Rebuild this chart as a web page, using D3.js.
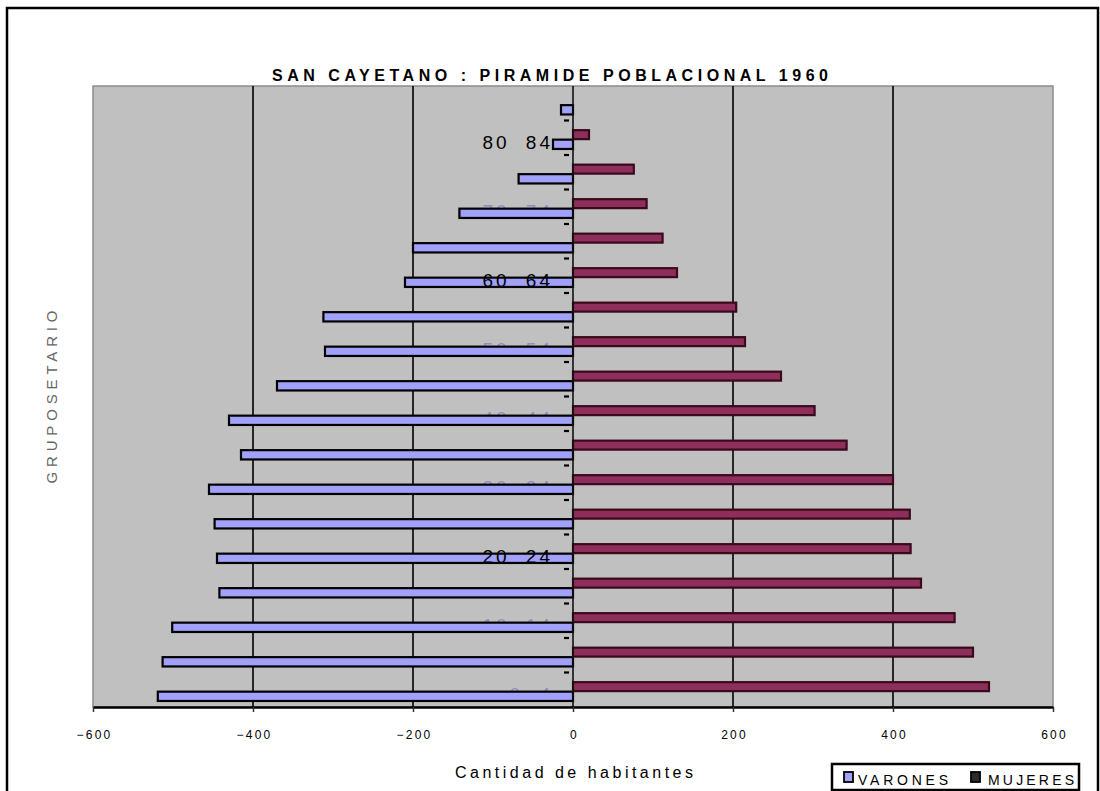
<!DOCTYPE html>
<html>
<head>
<meta charset="utf-8">
<script src="https://cdn.jsdelivr.net/npm/d3@7/dist/d3.min.js"></script>
<style>
  html, body { margin: 0; padding: 0; background: #fff; }
  svg { display: block; font-family: "Liberation Sans", Arial, sans-serif; }
</style>
</head>
<body>
<svg id="chart" width="1100" height="791"></svg>
<script>
// ---- data ----
const categories = ["0 4","5 9","10 14","15 19","20 24","25 29","30 34","35 39","40 44",
                    "45 49","50 54","55 59","60 64","65 69","70 74","75 79","80 84","85 89"];
const varones = [-519,-513,-501,-442,-445,-448,-455,-415,-430,-370,-310,-312,-210,-200,-142,-68,-25,-15];
const mujeres = [520,500,477,435,422,421,400,342,302,260,215,204,130,112,92,76,20,0];
const shownLabels = ["0 4","10 14","20 24","30 34","40 44","50 54","60 64","70 74","80 84"];
const legibleLabels = ["20 24","60 64","80 84"];
const xTicks = [-600,-400,-200,0,200,400,600];
const title = "SAN CAYETANO : PIRAMIDE POBLACIONAL 1960";
const xTitle = "Cantidad de habitantes";
const yTitle = "GRUPOSETARIO";
const seriesNames = ["VARONES","MUJERES"];

// ---- layout ----
const svg = d3.select("#chart");
const plot = {x0: 93, x1: 1053, y0: 86, y1: 707};

const x = d3.scaleLinear().domain([-600, 600]).range([plot.x0, plot.x1]);
const y = d3.scaleBand().domain(categories.slice().reverse()).range([plot.y0, plot.y1]).padding(0);
const bw = y.bandwidth();

// outer frame
svg.append("rect").attr("x", 7).attr("y", 8).attr("width", 1091).attr("height", 800)
  .attr("fill", "#fff").attr("stroke", "#000").attr("stroke-width", 2.5);

// plot area
svg.append("rect").attr("x", plot.x0).attr("y", plot.y0)
  .attr("width", plot.x1 - plot.x0).attr("height", plot.y1 - plot.y0)
  .attr("fill", "#c0c0c0").attr("stroke", "#8c8c8c").attr("stroke-width", 1.5);

// vertical gridlines
svg.append("g").selectAll("line")
  .data(xTicks.filter(d => d !== 0 && Math.abs(d) !== 600))
  .join("line")
  .attr("x1", d => x(d)).attr("x2", d => x(d))
  .attr("y1", plot.y0).attr("y2", plot.y1)
  .attr("stroke", "#000").attr("stroke-width", 1.6);

// category labels (drawn under the bars)
const lab = svg.append("g");
lab.selectAll("text")
  .data(shownLabels.filter(d => !legibleLabels.includes(d)))
  .join("text")
  .attr("x", x(0) - 20)
  .attr("y", d => y(d) + bw / 2 + 11)
  .attr("text-anchor", "end")
  .attr("font-size", 19)
  .attr("letter-spacing", 3)
  .attr("word-spacing", 8)
  .attr("fill", "#3a3aa8")
  .attr("opacity", 0.35)
  .text(d => d);

// varones bars
svg.append("g").selectAll("rect")
  .data(categories.map((c, i) => ({c, v: varones[i]})))
  .join("rect")
  .attr("x", d => x(d.v))
  .attr("y", d => y(d.c) + bw * 0.555)
  .attr("width", d => x(0) - x(d.v))
  .attr("height", bw * 0.27)
  .attr("fill", "#a1a1fa")
  .attr("stroke", "#000")
  .attr("stroke-width", 2.2);

// mujeres bars
svg.append("g").selectAll("rect")
  .data(categories.map((c, i) => ({c, v: mujeres[i]})).filter(d => d.v > 0))
  .join("rect")
  .attr("x", x(0))
  .attr("y", d => y(d.c) + bw * 0.28)
  .attr("width", d => x(d.v) - x(0))
  .attr("height", bw * 0.26)
  .attr("fill", "#8d2f5a")
  .attr("stroke", "#3a0a1c")
  .attr("stroke-width", 2.2);

// legible category labels (on top)
svg.append("g").selectAll("text")
  .data(legibleLabels)
  .join("text")
  .attr("x", x(0) - 20)
  .attr("y", d => y(d) + bw / 2 + 11)
  .attr("text-anchor", "end")
  .attr("font-size", 19)
  .attr("letter-spacing", 3)
  .attr("word-spacing", 8)
  .attr("fill", "#000")
  .text(d => d);

// vertical axis at zero with small category tick marks
svg.append("line")
  .attr("x1", x(0)).attr("x2", x(0)).attr("y1", plot.y0).attr("y2", plot.y1)
  .attr("stroke", "#111").attr("stroke-width", 1.6);
svg.append("g").selectAll("line")
  .data(categories.slice(0, categories.length - 1))
  .join("line")
  .attr("x1", x(0) - 9).attr("x2", x(0) - 4)
  .attr("y1", d => y(d)).attr("y2", d => y(d))
  .attr("stroke", "#000").attr("stroke-width", 2.2);

// bottom axis
const xAxis = d3.axisBottom(x).tickValues(xTicks).tickSize(5).tickSizeOuter(0).tickPadding(18);
const gx = svg.append("g").attr("transform", `translate(0,${plot.y1})`).call(xAxis);
gx.select(".domain").attr("stroke", "#000").attr("stroke-width", 2.5);
gx.selectAll(".tick line").attr("stroke", "#333").attr("stroke-width", 1.5);
gx.selectAll(".tick text")
  .attr("font-size", 12).attr("letter-spacing", 2.2).attr("fill", "#000")
  .attr("font-family", "Liberation Sans, Arial, sans-serif")
  .attr("dx", 1);

// title
svg.append("text")
  .attr("x", 550).attr("y", 81)
  .attr("text-anchor", "middle")
  .attr("font-size", 16).attr("font-weight", "bold")
  .attr("textLength", 556).attr("lengthAdjust", "spacing")
  .text(title);

// x axis title
svg.append("text")
  .attr("x", 574).attr("y", 778)
  .attr("text-anchor", "middle")
  .attr("font-size", 16)
  .attr("textLength", 238).attr("lengthAdjust", "spacing")
  .text(xTitle);

// y axis title
svg.append("text")
  .attr("transform", "translate(57,397) rotate(-90)")
  .attr("text-anchor", "middle")
  .attr("font-size", 15).attr("fill", "#666")
  .attr("textLength", 173).attr("lengthAdjust", "spacing")
  .text(yTitle);

// legend
const lg = svg.append("g");
lg.append("rect").attr("x", 832).attr("y", 764).attr("width", 247).attr("height", 26)
  .attr("fill", "#fff").attr("stroke", "#000").attr("stroke-width", 2.5);
const legendItems = [
  {name: seriesNames[0], sx: 844, tx: 858, tl: 90, fill: "#a1a1fa", stroke: "#000"},
  {name: seriesNames[1], sx: 971, tx: 988, tl: 86, fill: "#2e2a2c", stroke: "#000"}
];
legendItems.forEach(it => {
  lg.append("rect").attr("x", it.sx).attr("y", 772).attr("width", 9).attr("height", 10)
    .attr("fill", it.fill).attr("stroke", it.stroke).attr("stroke-width", 1.8);
  lg.append("text").attr("x", it.tx).attr("y", 785)
    .attr("font-size", 14)
    .attr("textLength", it.tl).attr("lengthAdjust", "spacing")
    .text(it.name);
});
</script>
</body>
</html>
